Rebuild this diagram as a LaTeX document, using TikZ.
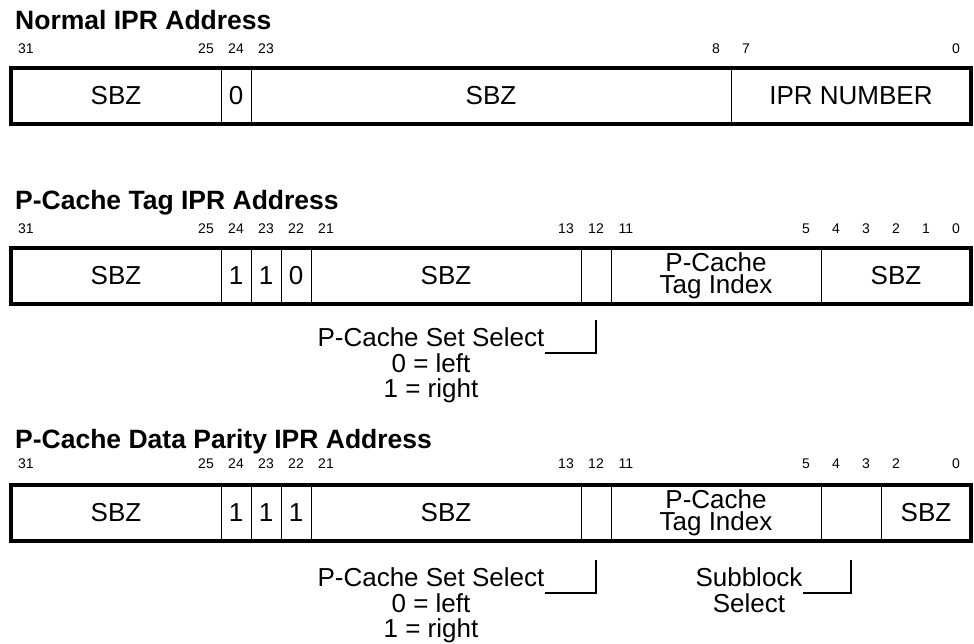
\documentclass[tikz,border=0pt]{standalone}
\usepackage{fontspec}
\setmainfont{Liberation Sans}
\usetikzlibrary{positioning}
\tikzset{
  field/.style={draw,line width=1pt,minimum height=56pt,inner sep=0pt,outer sep=0pt,align=center,font=\fontsize{26}{21.5}\selectfont},
  outer/.style={line width=3.5pt},
  bitnum/.style={anchor=base,inner sep=0pt,font=\fontsize{14}{14}\selectfont},
  ttl/.style={anchor=base west,inner sep=0pt,font=\fontsize{26.5}{26}\selectfont\bfseries},
  sel/.style={anchor=base,inner sep=0pt,font=\fontsize{26}{25.5}\selectfont},
  note/.style={inner sep=0pt,align=center,font=\fontsize{26}{25.5}\selectfont},
  bracket/.style={line width=1.2pt}
}

\begin{document}
\begin{tikzpicture}[x=1pt,y=-1pt]
\useasboundingbox (0,0) rectangle (974,643);

% Normal IPR Address
\node[ttl] (t1) at (15,29) {Normal IPR Address};
\foreach \b in {31,25,24,23,8,7,0}
  \node[bitnum] (r1-n\b) at ({26+(31-\b)*30},53) {\b};
\foreach \hi/\lo/\txt/\nm in {31/25/SBZ/a,24/24/0/b,23/8/SBZ/c,7/0/IPR NUMBER/d}{
  \pgfmathsetmacro\w{(\hi-\lo+1)*30}
  \node[field,minimum width=\w pt] (r1-\nm) at ({11+(31-\hi)*30+\w/2},96) {\txt};
}
\draw[outer] (r1-a.north west) rectangle (r1-d.south east);

% P-Cache Tag IPR Address
\node[ttl] (t2) at (15,209) {P-Cache Tag IPR Address};
\foreach \b in {31,25,24,23,22,21,13,12,11,5,4,3,2,1,0}
  \node[bitnum] (r2-n\b) at ({26+(31-\b)*30},233) {\b};
\foreach \hi/\lo/\txt/\nm in {31/25/SBZ/a,24/24/1/b,23/23/1/c,22/22/0/d,21/13/SBZ/e,12/12//f,11/5/{P-Cache\\Tag Index}/g,4/0/SBZ/h}{
  \pgfmathsetmacro\w{(\hi-\lo+1)*30}
  \node[field,minimum width=\w pt] (r2-\nm) at ({11+(31-\hi)*30+\w/2},276) {\txt};
}
\draw[outer] (r2-a.north west) rectangle (r2-h.south east);
\node[sel] (r2-sel) at (431,346) {P-Cache Set Select};
\node[note,below=6.5pt of r2-sel] (r2-val) {0 = left\\1 = right};
\draw[bracket] (r2-f.south) ++(0,16) |- ([yshift=-7pt]r2-sel.base east);

% P-Cache Data Parity IPR Address
\node[ttl] (t3) at (15,448) {P-Cache Data Parity IPR Address};
\foreach \b in {31,25,24,23,22,21,13,12,11,5,4,3,2,0}
  \node[bitnum] (r3-n\b) at ({26+(31-\b)*30},468) {\b};
\foreach \hi/\lo/\txt/\nm in {31/25/SBZ/a,24/24/1/b,23/23/1/c,22/22/1/d,21/13/SBZ/e,12/12//f,11/5/{P-Cache\\Tag Index}/g,4/3//h,2/0/SBZ/i}{
  \pgfmathsetmacro\w{(\hi-\lo+1)*30}
  \node[field,minimum width=\w pt] (r3-\nm) at ({11+(31-\hi)*30+\w/2},513) {\txt};
}
\draw[outer] (r3-a.north west) rectangle (r3-i.south east);
\node[sel] (r3-sel) at (431,586) {P-Cache Set Select};
\node[note,below=6.5pt of r3-sel] (r3-val) {0 = left\\1 = right};
\draw[bracket] (r3-f.south) ++(0,19) |- ([yshift=-7pt]r3-sel.base east);
\node[sel] (r3-sub) at (749,586) {Subblock};
\node[note,below=6.5pt of r3-sub] (r3-subs) {Select};
\draw[bracket] (r3-h.south) ++(0,19) |- ([yshift=-7pt]r3-sub.base east);
\end{tikzpicture}
\end{document}
